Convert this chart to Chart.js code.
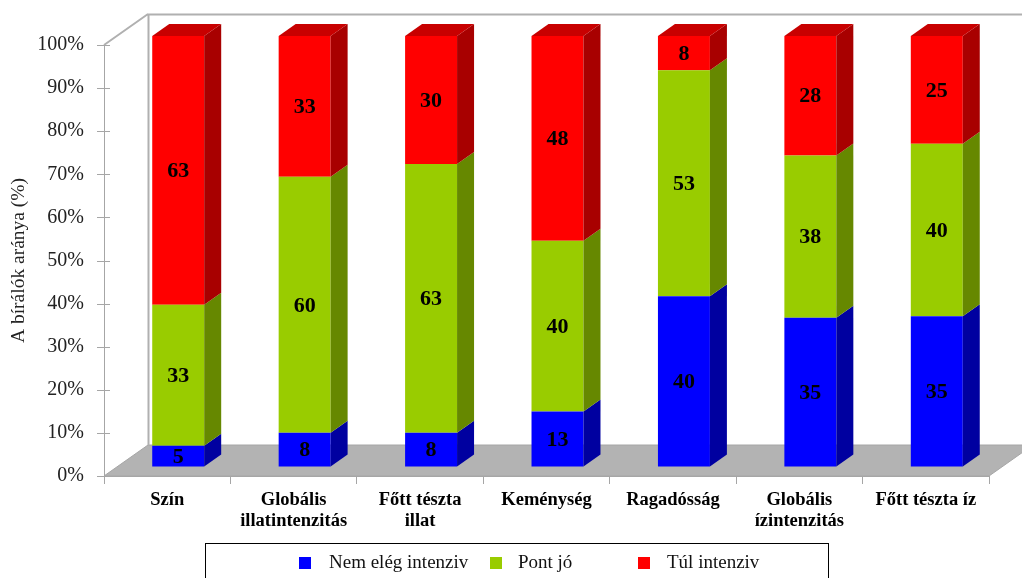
<!DOCTYPE html>
<html>
<head>
<meta charset="utf-8">
<script src="https://cdn.jsdelivr.net/npm/chart.js@4/dist/chart.umd.min.js"></script>
<style>
  html, body { margin: 0; padding: 0; background: #fff; }
</style>
</head>
<body>
<canvas id="grafico" width="1022" height="578"></canvas>
<script>
// ===== ADATOK =====
const kategoriak = [
  'Szín',
  ['Globális', 'illatintenzitás'],
  ['Főtt tészta', 'illat'],
  'Keménység',
  'Ragadósság',
  ['Globális', 'ízintenzitás'],
  'Főtt tészta íz'
];
const sorozatNevek = ['Nem elég intenziv', 'Pont jó', 'Túl intenziv'];
const nemElegIntenziv = [5, 8, 8, 13, 40, 35, 35];
const pontJo = [33, 60, 63, 40, 53, 38, 40];
const tulIntenziv = [63, 33, 30, 48, 8, 28, 25];
const yTickek = [0, 10, 20, 30, 40, 50, 60, 70, 80, 90, 100];

// ===== STILUS =====
const szinek = ['#0000ff', '#99cc00', '#ff0000'];
const oldalSzinek = ['#0000a0', '#668800', '#a80000'];
const tetoSzinek = ['#0000c4', '#7da600', '#c80000'];
const BETU = 'Liberation Serif, Times New Roman, serif';
const PADLO = { dx: 44, dy: -31 };     // padlo melysege
const ELTOLAS = { dx: 11, dy: -9 };    // oszlopok elso sikja
const OSZLOP = { dx: 17, dy: -12 };    // oszlop melysege

// 100%-os halmozas: minden kategoria osszege 100
const sorok = [nemElegIntenziv, pontJo, tulIntenziv];
const osszegek = kategoriak.map((_, i) => sorok.reduce((s, r) => s + r[i], 0));
const arany = r => r.map((v, i) => v / osszegek[i] * 100);

// ===== 3D PLUGIN =====
const harom = {
  id: 'harom',
  beforeDraw(chart) {
    const { ctx, chartArea: a, scales: { y } } = chart;
    ctx.save();
    ctx.fillStyle = '#fff';
    ctx.fillRect(0, 0, chart.width, chart.height);
    const y0 = y.getPixelForValue(0);
    const y100 = y.getPixelForValue(100);
    // padlo
    ctx.beginPath();
    ctx.moveTo(a.left, y0);
    ctx.lineTo(a.right, y0);
    ctx.lineTo(a.right + PADLO.dx, y0 + PADLO.dy);
    ctx.lineTo(a.left + PADLO.dx, y0 + PADLO.dy);
    ctx.closePath();
    ctx.fillStyle = '#b3b3b3';
    ctx.fill();
    ctx.strokeStyle = '#a6a6a6';
    ctx.lineWidth = 1;
    ctx.stroke();
    // hatso fal
    ctx.beginPath();
    ctx.moveTo(a.left + PADLO.dx + 0.5, y0 + PADLO.dy);
    ctx.lineTo(a.left + PADLO.dx + 0.5, y100 + PADLO.dy + 0.5);
    ctx.lineTo(a.right + PADLO.dx + 40, y100 + PADLO.dy + 0.5);
    ctx.moveTo(a.left, y100);
    ctx.lineTo(a.left + PADLO.dx, y100 + PADLO.dy);
    ctx.lineWidth = 2;
    ctx.strokeStyle = '#b0b0b0';
    ctx.stroke();
    ctx.restore();
  },
  beforeDatasetsDraw(chart) {
    chart.ctx.save();
    chart.ctx.translate(ELTOLAS.dx, ELTOLAS.dy);
  },
  afterDatasetsDraw(chart) {
    const ctx = chart.ctx;
    const n = chart.data.datasets.length;
    for (let d = 0; d < n; d++) {
      chart.getDatasetMeta(d).data.forEach(bar => {
        const { x, y, base, width } = bar.getProps(['x', 'y', 'base', 'width'], true);
        const r = x + width / 2, l = x - width / 2;
        ctx.fillStyle = oldalSzinek[d];
        ctx.beginPath();
        ctx.moveTo(r, y);
        ctx.lineTo(r + OSZLOP.dx, y + OSZLOP.dy);
        ctx.lineTo(r + OSZLOP.dx, base + OSZLOP.dy);
        ctx.lineTo(r, base);
        ctx.closePath();
        ctx.fill();
        if (d === n - 1) {
          ctx.fillStyle = tetoSzinek[d];
          ctx.beginPath();
          ctx.moveTo(l, y);
          ctx.lineTo(r, y);
          ctx.lineTo(r + OSZLOP.dx, y + OSZLOP.dy);
          ctx.lineTo(l + OSZLOP.dx, y + OSZLOP.dy);
          ctx.closePath();
          ctx.fill();
        }
      });
    }
    // ertekek
    ctx.fillStyle = '#000';
    ctx.font = 'bold 22px ' + BETU;
    ctx.textAlign = 'center';
    ctx.textBaseline = 'middle';
    for (let d = 0; d < n; d++) {
      chart.getDatasetMeta(d).data.forEach((bar, i) => {
        const { x, y, base } = bar.getProps(['x', 'y', 'base'], true);
        ctx.fillText(sorok[d][i], x, (y + base) / 2 + 1);
      });
    }
    ctx.restore();
  },
  afterDraw(chart) {
    const { ctx, chartArea: a, scales: { y } } = chart;
    ctx.save();
    // y tengely jelolok
    ctx.strokeStyle = '#a6a6a6';
    ctx.lineWidth = 1;
    y.ticks.forEach(t => {
      const py = Math.round(y.getPixelForValue(t.value)) + 0.5;
      ctx.beginPath();
      ctx.moveTo(a.left - 7, py);
      ctx.lineTo(a.left + 6, py);
      ctx.stroke();
    });
    // jelmagyarazat
    ctx.strokeStyle = '#000';
    ctx.strokeRect(205.5, 543.5, 623, 60);
    const dobozX = [299, 490, 638];
    const szovegX = [329, 518, 667];
    ctx.font = '19px ' + BETU;
    ctx.textBaseline = 'middle';
    ctx.textAlign = 'left';
    chart.data.datasets.forEach((ds, d) => {
      ctx.fillStyle = ds.backgroundColor;
      ctx.fillRect(dobozX[d], 557, 12, 12);
      ctx.fillStyle = '#111';
      ctx.fillText(ds.label, szovegX[d], 563);
    });
    ctx.restore();
  }
};

// ===== GRAFIKON =====
const ctx = document.getElementById('grafico').getContext('2d');

const grafico = new Chart(ctx, {
  type: 'bar',
  data: {
    labels: kategoriak,
    datasets: sorok.map((r, d) => ({
      label: sorozatNevek[d],
      data: arany(r),
      backgroundColor: szinek[d],
      borderWidth: 0,
      barPercentage: 0.411,
      categoryPercentage: 1,
      clip: false
    }))
  },
  options: {
    responsive: false,
    animation: false,
    layout: { padding: { top: 45, right: 33, left: 0, bottom: 0 } },
    plugins: { legend: { display: false }, tooltip: { enabled: false } },
    scales: {
      x: {
        stacked: true,
        offset: true,
        grid: { offset: true, drawOnChartArea: false, drawTicks: true, tickLength: 8, color: '#a6a6a6' },
        border: { color: '#a6a6a6' },
        ticks: {
          font: { family: BETU, size: 18.5, weight: 'bold', lineHeight: 1.12 },
          color: '#000',
          padding: 6,
          maxRotation: 0,
          autoSkip: false
        },
        afterFit: s => { s.height = 102; }
      },
      y: {
        stacked: true,
        min: 0,
        max: 100,
        afterBuildTicks: s => { s.ticks = yTickek.map(v => ({ value: v })); },
        ticks: {
          callback: v => v + '%',
          font: { family: BETU, size: 20 },
          color: '#222',
          padding: 20
        },
        grid: { drawOnChartArea: false, drawTicks: false },
        border: { color: '#a6a6a6' },
        title: {
          display: true,
          text: 'A bírálók aránya (%)',
          font: { family: BETU, size: 19.5 },
          color: '#222',
          padding: { top: 7, bottom: 0 }
        },
        afterFit: s => { s.width = 104; }
      }
    }
  },
  plugins: [harom]
});
</script>
</body>
</html>
